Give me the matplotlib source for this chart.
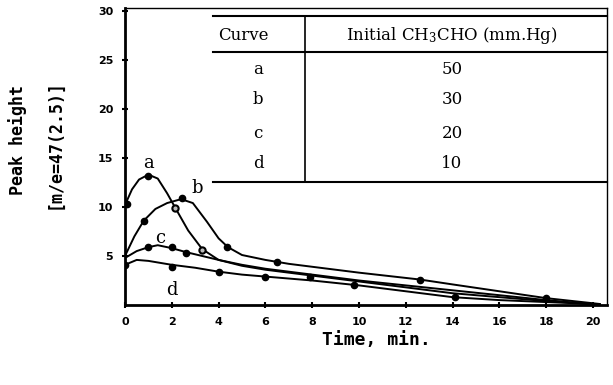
import matplotlib
matplotlib.use("Agg")
import matplotlib.pyplot as plt

plt.rcParams["mathtext.fontset"] = "dejavuserif"

# curve traces (time in min, peak height)
a_x = [0, 0.3, 0.6, 1.0, 1.4, 1.8, 2.2, 2.7, 3.3, 4.0, 5.0, 6, 8, 10, 12, 14, 16, 18, 20]
a_y = [10.2, 11.8, 12.8, 13.3, 12.9, 11.4, 9.7, 7.6, 5.7, 4.6, 4.0, 3.6, 3.0, 2.4, 1.8, 1.2, 0.8, 0.4, 0.1]
b_x = [0, 0.4, 0.8, 1.3, 1.8, 2.4, 2.9, 3.5, 4.0, 4.4, 5, 6, 7, 8, 10, 12.6, 14, 16, 18, 20.3]
b_y = [5.0, 7.0, 8.6, 9.8, 10.4, 10.8, 10.4, 8.5, 6.8, 5.9, 5.1, 4.6, 4.2, 3.9, 3.3, 2.6, 2.1, 1.4, 0.7, 0.1]
c_x = [0, 0.5, 1.0, 1.4, 2.0, 2.6, 3.3, 4, 5, 6, 8, 10, 12, 14, 16, 18, 20.3]
c_y = [4.8, 5.5, 5.9, 6.1, 5.8, 5.4, 5.0, 4.6, 4.1, 3.7, 3.1, 2.5, 2.0, 1.5, 1.0, 0.5, 0.0]
d_x = [0, 0.5, 1.0, 2, 3, 4, 5, 6, 8, 10, 12, 14, 16, 18, 20]
d_y = [4.1, 4.6, 4.5, 4.1, 3.8, 3.4, 3.1, 2.9, 2.5, 2.0, 1.4, 0.8, 0.5, 0.3, 0.1]

# measured points
pts_x = [0.1, 1.0, 0.8, 2.45, 4.35, 6.5, 12.6, 1.0, 2.0, 2.6, 0, 2.0, 4.0, 6.0, 7.9, 9.8, 14.1, 18]
pts_y = [10.3, 13.2, 8.6, 10.9, 5.9, 4.4, 2.6, 5.9, 5.9, 5.3, 4.1, 3.9, 3.4, 2.9, 2.9, 2.0, 0.8, 0.7]
open_x = [2.15, 3.3]
open_y = [9.9, 5.6]

curve_names = ["a", "b", "c", "d"]
pressures = ["50", "30", "20", "10"]

fig = plt.figure(figsize=(6.13, 3.85), dpi=100)
ax = fig.add_axes([125/613, 80/385, 482/613, 297/385])

for xs, ys in [(a_x, a_y), (b_x, b_y), (c_x, c_y), (d_x, d_y)]:
    ax.plot(xs, ys, color="black", lw=1.4)
ax.plot(pts_x, pts_y, "o", color="black", ms=4.5)
ax.plot(open_x, open_y, "o", mfc="#bbbbbb", mec="black", mew=1.5, ms=4.5)

# curve letters
serif = "DejaVu Serif"
ax.text(1.0, 14.0, "a", fontsize=13, family=serif, ha="center")
ax.text(3.1, 11.4, "b", fontsize=13, family=serif, ha="center")
ax.text(1.5, 6.3, "c", fontsize=13, family=serif, ha="center")
ax.text(2.0, 1.0, "d", fontsize=13, family=serif, ha="center")

ax.set_xlim(0, 20.6)
ax.set_ylim(0, 30.3)
ax.set_xticks(range(0, 21, 2))
ax.set_yticks([5, 10, 15, 20, 25, 30])
ax.tick_params(direction="inout", length=5, width=1.5, labelsize=8, pad=6)
for lab in ax.get_xticklabels() + ax.get_yticklabels():
    lab.set_fontweight("bold")
for s in ["left", "bottom"]:
    ax.spines[s].set_linewidth(2)
for s in ["top", "right"]:
    ax.spines[s].set_linewidth(1)

# inset table drawn in axes fraction
def fx(px):
    return (px - 125) / 482
def fy(py):
    return (305 - py) / 297

for py in [16, 52, 182]:
    ax.plot([fx(213), fx(607)], [fy(py), fy(py)], color="black", lw=1.5,
            transform=ax.transAxes, clip_on=False)
ax.plot([fx(305), fx(305)], [fy(16), fy(182)], color="black", lw=1.2,
        transform=ax.transAxes, clip_on=False)
ax.text(fx(243), fy(35), "Curve", transform=ax.transAxes, ha="center", va="center",
        fontsize=12, family=serif)
ax.text(fx(452), fy(35), "Initial CH$_3$CHO (mm.Hg)", transform=ax.transAxes,
        ha="center", va="center", fontsize=12, family=serif)
for i, (n, p) in enumerate(zip(curve_names, pressures)):
    yy = fy([70, 100, 133, 163][i])
    ax.text(fx(258), yy, n, transform=ax.transAxes, ha="center", va="center",
            fontsize=12, family=serif)
    ax.text(fx(452), yy, p, transform=ax.transAxes, ha="center", va="center",
            fontsize=12, family=serif)

mono = "DejaVu Sans Mono"
fig.text(18/613, 1 - 140/385, "Peak height", rotation=90, ha="center", va="center",
         fontsize=12, family=mono, fontweight="bold")
fig.text(55/613, 1 - 144/385, "[m/e=47(2.5)]", rotation=90, ha="center", va="center",
         fontsize=12, family=mono, fontweight="bold")
fig.text(376/613, 1 - 340/385, "Time, min.", ha="center", va="center",
         fontsize=13, family=mono, fontweight="bold")

fig.savefig("out.png", dpi=100)
